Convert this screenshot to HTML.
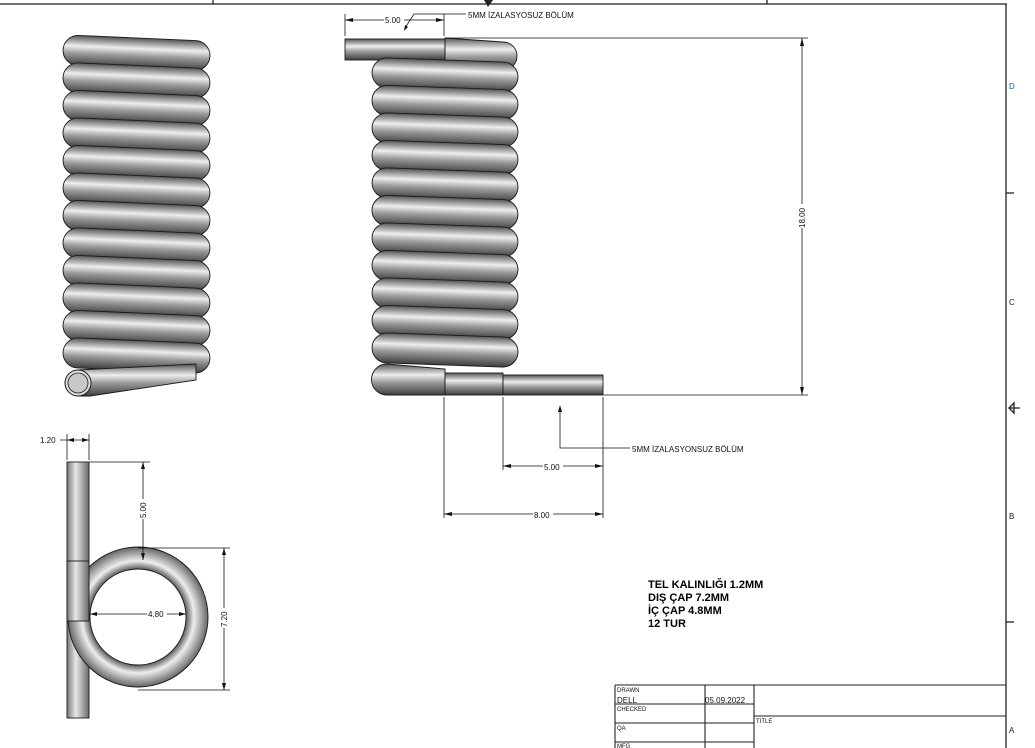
<!DOCTYPE html>
<html><head><meta charset="utf-8"><style>
html,body{margin:0;padding:0;background:#fff;}
svg{display:block;font-family:"Liberation Sans",sans-serif;}
</style></head><body>
<svg width="1035" height="748" viewBox="0 0 1035 748" xmlns="http://www.w3.org/2000/svg">
<defs>
<linearGradient id="g" x1="0" y1="0" x2="0" y2="1">
<stop offset="0" stop-color="#555"/><stop offset="0.35" stop-color="#eeeeee"/><stop offset="0.6" stop-color="#999"/><stop offset="1" stop-color="#3e3e3e"/>
</linearGradient>
<linearGradient id="gh" x1="0" y1="0" x2="1" y2="0">
<stop offset="0" stop-color="#777"/><stop offset="0.4" stop-color="#e8e8e8"/><stop offset="1" stop-color="#6a6a6a"/>
</linearGradient>
<radialGradient id="rg" cx="0.5" cy="0.5" r="0.5">
<stop offset="0.68" stop-color="#555"/><stop offset="0.8" stop-color="#eee"/><stop offset="1" stop-color="#666"/>
</radialGradient>
<rect id="L" width="146" height="30" rx="15" fill="url(#g)" stroke="#1a1a1a" stroke-width="0.9"/>
<rect id="LL" width="147" height="30" rx="15" fill="url(#g)" stroke="#1a1a1a" stroke-width="0.9"/>
</defs>

<!-- border -->
<g stroke="#222" stroke-width="1.3" fill="none">
<line x1="0" y1="4" x2="1007" y2="4"/>
<line x1="1006" y1="4" x2="1006" y2="748"/>
<line x1="213" y1="0" x2="213" y2="4"/><line x1="767" y1="0" x2="767" y2="4"/>
<line x1="1006" y1="193" x2="1014" y2="193"/><line x1="1006" y1="622" x2="1014" y2="622"/>
<path d="M1014,403 L1009,408 L1014,413 Z M1009,408 L1020,408"/>
</g>
<path d="M484,0 L493,0 L488,7 Z" fill="#222"/>
<g font-size="8" fill="#1a5fb4"><text x="1009" y="89">D</text><text x="1009" y="305" fill="#222">C</text><text x="1009" y="519" fill="#222">B</text><text x="1009" y="733" fill="#222">A</text></g>

<!-- left coil -->
<g>
<use href="#LL" x="63" y="38" transform="rotate(2.5 136 53)"/>
<use href="#LL" x="63" y="65.5" transform="rotate(2.5 136 80)"/>
<use href="#LL" x="63" y="93" transform="rotate(2.5 136 108)"/>
<use href="#LL" x="63" y="120.5" transform="rotate(2.5 136 135)"/>
<use href="#LL" x="63" y="148" transform="rotate(2.5 136 163)"/>
<use href="#LL" x="63" y="175.5" transform="rotate(2.5 136 190)"/>
<use href="#LL" x="63" y="203" transform="rotate(2.5 136 218)"/>
<use href="#LL" x="63" y="230.5" transform="rotate(2.5 136 245)"/>
<use href="#LL" x="63" y="258" transform="rotate(2.5 136 273)"/>
<use href="#LL" x="63" y="285.5" transform="rotate(2.5 136 300)"/>
<use href="#LL" x="63" y="313" transform="rotate(2.5 136 328)"/>
<use href="#LL" x="63" y="340.5" transform="rotate(2.5 136 355)"/>
<path d="M78,370 L196,364 L196,380 L90,396 L78,396 Z" fill="url(#g)" stroke="#1a1a1a" stroke-width="0.9"/>
<circle cx="78" cy="383" r="13" fill="#ddd" stroke="#1a1a1a" stroke-width="1"/>
<circle cx="78" cy="383" r="10" fill="#c8c8c8" stroke="#1a1a1a" stroke-width="0.8"/>
</g>

<!-- right coil -->
<g>
<rect x="345" y="39" width="100" height="21" fill="url(#g)" stroke="#1a1a1a" stroke-width="0.9"/>
<path d="M445,38 L503,42 A14,14 0 0 1 503,70 L445,66 Z" fill="url(#g)" stroke="#1a1a1a" stroke-width="0.9"/>
<use href="#L" x="372" y="60" transform="rotate(2 445 75)"/>
<use href="#L" x="372" y="87.5" transform="rotate(2 445 102)"/>
<use href="#L" x="372" y="115" transform="rotate(2 445 130)"/>
<use href="#L" x="372" y="142.5" transform="rotate(2 445 157)"/>
<use href="#L" x="372" y="170" transform="rotate(2 445 185)"/>
<use href="#L" x="372" y="197.5" transform="rotate(2 445 212)"/>
<use href="#L" x="372" y="225" transform="rotate(2 445 240)"/>
<use href="#L" x="372" y="252.5" transform="rotate(2 445 267)"/>
<use href="#L" x="372" y="280" transform="rotate(2 445 295)"/>
<use href="#L" x="372" y="307.5" transform="rotate(2 445 322)"/>
<use href="#L" x="372" y="335" transform="rotate(2 445 350)"/>
<path d="M387,364 L445,369 L445,395 L387,395 A15,15 0 0 1 387,364 Z" fill="url(#g)" stroke="#1a1a1a" stroke-width="0.9"/>
<rect x="445" y="373" width="58" height="22" fill="url(#g)" stroke="#1a1a1a" stroke-width="0.9"/>
<rect x="503" y="375" width="100" height="20" fill="url(#g)" stroke="#1a1a1a" stroke-width="0.9"/>
</g>

<!-- right dims -->
<g stroke="#111" stroke-width="0.8" fill="none">
<line x1="445" y1="38" x2="808" y2="38"/>
<line x1="603" y1="395" x2="808" y2="395"/>
<line x1="802" y1="38" x2="802" y2="395"/>
<line x1="345" y1="14" x2="345" y2="36"/><line x1="444" y1="14" x2="444" y2="36"/>
<line x1="345" y1="20" x2="444" y2="20"/>
<path d="M405,28 L414,14 L466,14"/>
<line x1="444" y1="397" x2="444" y2="518"/>
<line x1="503" y1="397" x2="503" y2="470"/>
<line x1="603" y1="397" x2="603" y2="518"/>
<line x1="444" y1="514" x2="603" y2="514"/>
<line x1="503" y1="466" x2="603" y2="466"/>
<path d="M560,410 L560,448 L630,448"/>
</g>
<g fill="#111">
<path d="M802,38 l-2,8 l4,0 z M802,395 l-2,-8 l4,0 z"/>
<path d="M345,20 l8,-2 l0,4 z M444,20 l-8,-2 l0,4 z"/>
<path d="M444,514 l8,-2 l0,4 z M603,514 l-8,-2 l0,4 z M503,466 l8,-2 l0,4 z M603,466 l-8,-2 l0,4 z"/>
<path d="M560,405 l-2,7 l4,0 z M404,31 l1,-6 l3,2 z"/>
</g>
<g font-size="8" fill="#111">
<rect x="384" y="15" width="20" height="9" fill="#fff"/><text x="385" y="23">5.00</text>
<text x="468" y="18">5MM İZALASYOSUZ BÖLÜM</text>
<text x="632" y="452">5MM İZALASYONSUZ BÖLÜM</text>
<rect x="543" y="462" width="20" height="9" fill="#fff"/><text x="544" y="470">5.00</text>
<rect x="533" y="510" width="20" height="9" fill="#fff"/><text x="534" y="518">8.00</text>
<rect x="797" y="204" width="10" height="24" fill="#fff"/><text transform="translate(805,228) rotate(-90)">18.00</text>
</g>

<!-- bottom-left view -->
<g>
<rect x="67" y="462" width="22" height="256" fill="url(#gh)" stroke="#1a1a1a" stroke-width="0.9"/>
<path fill-rule="evenodd" d="M138,547 A70,70 0 1 1 138,687 A70,70 0 1 1 138,547 Z M138,569 A48,48 0 1 0 138,665 A48,48 0 1 0 138,569 Z" fill="url(#rg)" stroke="#1a1a1a" stroke-width="0.9"/>
<rect x="67" y="561" width="22" height="60" fill="url(#gh)" stroke="#1a1a1a" stroke-width="0.9"/>
</g>
<g stroke="#111" stroke-width="0.8" fill="none">
<line x1="67" y1="434" x2="67" y2="460"/><line x1="89" y1="434" x2="89" y2="460"/>
<line x1="60" y1="440" x2="89" y2="440"/>
<line x1="89" y1="462" x2="150" y2="462"/>
<line x1="143" y1="462" x2="143" y2="560"/>
<line x1="138" y1="548" x2="230" y2="548"/><line x1="138" y1="690" x2="230" y2="690"/>
<line x1="224" y1="548" x2="224" y2="690"/>
<line x1="90" y1="614" x2="186" y2="614"/>
</g>
<g fill="#111">
<path d="M67,440 l7,-2 l0,4 z M89,440 l-7,-2 l0,4 z M143,462 l-2,7 l4,0 z M143,560 l-2,-7 l4,0 z M224,548 l-2,7 l4,0 z M224,690 l-2,-7 l4,0 z M90,614 l7,-2 l0,4 z M186,614 l-7,-2 l0,4 z"/>
</g>
<g font-size="8" fill="#111">
<text x="40" y="443">1.20</text>
<rect x="147" y="610" width="20" height="9" fill="#fff"/><text x="148" y="617">4.80</text>
<rect x="138" y="499" width="10" height="20" fill="#fff"/><text transform="translate(146,518) rotate(-90)">5.00</text>
<rect x="219" y="608" width="10" height="20" fill="#fff"/><text transform="translate(227,627) rotate(-90)">7.20</text>
</g>

<!-- notes -->
<g font-size="11" font-weight="bold" fill="#000">
<text x="648" y="588">TEL KALINLIĞI 1.2MM</text>
<text x="648" y="601">DIŞ ÇAP 7.2MM</text>
<text x="648" y="614">İÇ ÇAP 4.8MM</text>
<text x="648" y="627">12 TUR</text>
</g>

<!-- title block -->
<g stroke="#222" stroke-width="1.1" fill="none">
<line x1="615" y1="685" x2="1006" y2="685"/>
<line x1="615" y1="685" x2="615" y2="748"/>
<line x1="705" y1="685" x2="705" y2="748"/>
<line x1="754" y1="685" x2="754" y2="748"/>
<line x1="615" y1="704" x2="754" y2="704"/>
<line x1="615" y1="723" x2="754" y2="723"/>
<line x1="615" y1="742" x2="754" y2="742"/>
<line x1="754" y1="716" x2="1006" y2="716"/>
</g>
<g fill="#111">
<text x="617" y="692" font-size="6">DRAWN</text>
<text x="617" y="703" font-size="8">DELL</text>
<text x="705" y="703" font-size="8">05.09.2022</text>
<text x="617" y="711" font-size="6">CHECKED</text>
<text x="617" y="730" font-size="6">QA</text>
<text x="617" y="748" font-size="6">MFG</text>
<text x="756" y="723" font-size="6">TITLE</text>
</g>
</svg>
</body></html>
